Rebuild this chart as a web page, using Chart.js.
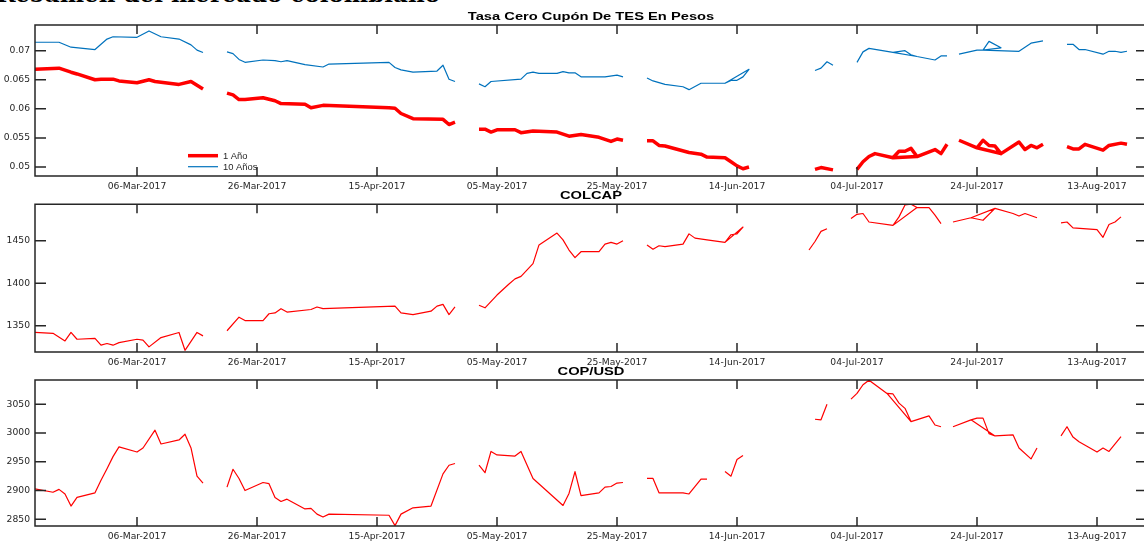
<!DOCTYPE html>
<html>
<head>
<meta charset="utf-8">
<script src="https://cdn.jsdelivr.net/npm/chart.js@4.4.0/dist/chart.umd.min.js"></script>
<style>
  html, body { margin: 0; padding: 0; background: #fff; overflow: hidden; width: 1144px; height: 542px; }
  canvas { position: absolute; left: 0; top: 0; }
  #head { position: absolute; right: 704px; top: -18.5px; font: bold 23px "DejaVu Serif"; line-height: 23px; white-space: nowrap; color: #000; }
</style>
</head>
<body>
<div id="head">Resumen del mercado colombiano</div>
<canvas id="tes" width="1150" height="542"></canvas>
<canvas id="colcap" width="1150" height="542"></canvas>
<canvas id="cop" width="1150" height="542"></canvas>
<script>
// all dates are 2017, written as MM-DD; a null value breaks the line
var xFirst = '02-17';
var xTickDates = ['03-06', '03-26', '04-15', '05-05', '05-25', '06-14', '07-04', '07-24', '08-13'];

var tes1Dates = ['02-17','02-21','02-23','02-24','02-27','02-28','03-02','03-03','03-06','03-08','03-09','03-13','03-15','03-17','03-19',
  '03-21','03-22','03-23','03-24','03-27','03-29','03-30','04-03','04-04','04-06','04-17','04-18','04-19','04-21','04-26','04-27','04-28','04-30',
  '05-02','05-03','05-04','05-05','05-08','05-09','05-11','05-15','05-17','05-19','05-22','05-24','05-25','05-26','05-28',
  '05-30','05-31','06-01','06-02','06-06','06-08','06-09','06-12','06-13','06-14','06-15','06-16','06-20',
  '06-27','06-28','06-30','07-02',
  '07-04','07-05','07-06','07-07','07-10','07-14','07-10','07-11','07-12','07-13','07-14','07-17','07-18','07-19','07-20',
  '07-21','07-24','07-28','07-24','07-25','07-26','07-27','07-28','07-31','08-01','08-02','08-03','08-04','08-06',
  '08-08','08-09','08-10','08-11','08-14','08-15','08-17','08-18'];
var tes1Year = [0.0668,0.0670,0.0663,0.0660,0.0650,0.0651,0.0651,0.0648,0.0645,0.0650,0.0647,0.0642,0.0647,0.0634,null,
  0.0627,0.0624,0.0616,0.0616,0.0619,0.0614,0.0609,0.0608,0.0602,0.0606,0.0602,0.0601,0.0592,0.0583,0.0582,0.0573,0.0577,null,
  0.0565,0.0565,0.0560,0.0564,0.0564,0.0559,0.0562,0.0560,0.0553,0.0556,0.0551,0.0544,0.0548,0.0546,null,
  0.0545,0.0545,0.0537,0.0536,0.0525,0.0522,0.0517,0.0516,0.0509,0.0502,0.0497,0.0500,null,
  0.0496,0.0499,0.0495,null,
  0.0496,0.0509,0.0518,0.0523,0.0516,0.0518,0.0516,0.0527,0.0527,0.0532,0.0518,0.0530,0.0523,0.0539,null,
  0.0546,0.0533,0.0523,0.0533,0.0546,0.0537,0.0536,0.0523,0.0543,0.0530,0.0537,0.0533,0.0539,null,
  0.0535,0.0531,0.0531,0.0539,0.0529,0.0537,0.0541,0.0539];

var tes10Dates = ['02-17','02-21','02-23','02-27','03-01','03-02','03-06','03-08','03-10','03-13','03-15','03-16','03-17','03-19',
  '03-21','03-22','03-23','03-24','03-27','03-29','03-30','03-31','04-03','04-06','04-07','04-17','04-18','04-19','04-21','04-25','04-26','04-27','04-28','04-30',
  '05-02','05-03','05-04','05-09','05-10','05-11','05-12','05-15','05-16','05-17','05-18','05-19','05-23','05-25','05-26','05-28',
  '05-30','05-31','06-02','06-05','06-06','06-08','06-12','06-16','06-12','06-13','06-14','06-15','06-16','06-20',
  '06-27','06-28','06-29','06-30','07-02',
  '07-04','07-05','07-06','07-10','07-14','07-10','07-12','07-13','07-14','07-17','07-18','07-19','07-20',
  '07-21','07-24','07-25','07-26','07-28','07-25','07-31','08-02','08-04','08-06',
  '08-08','08-09','08-10','08-11','08-14','08-15','08-16','08-17','08-18'];
var tes10Year = [0.07145,0.07145,0.0706,0.0702,0.0720,0.0724,0.0723,0.0734,0.0724,0.0720,0.0710,0.0701,0.0697,null,
  0.0698,0.0695,0.0685,0.0680,0.0684,0.0683,0.0681,0.0683,0.0676,0.0672,0.0677,0.0680,0.0671,0.0667,0.0663,0.0665,0.0675,0.0651,0.0647,null,
  0.0643,0.0638,0.0647,0.0651,0.0661,0.0663,0.0661,0.0661,0.0664,0.0662,0.0662,0.0655,0.0655,0.0658,0.0655,null,
  0.0653,0.0648,0.0642,0.0638,0.0633,0.0644,0.0644,0.0668,0.0644,0.0649,0.0649,0.0655,0.0668,null,
  0.0666,0.0670,0.0681,0.0675,null,
  0.0680,0.0698,0.0704,0.0697,0.0690,0.0697,0.0700,0.0693,0.0690,0.0684,0.0691,0.0691,null,
  0.0694,0.0701,0.0701,0.0716,0.0705,0.0701,0.0699,0.0713,0.0717,null,
  0.0711,0.0711,0.0702,0.0702,0.0694,0.0699,0.0699,0.0697,0.0699];

var colcapDates = ['02-17','02-20','02-22','02-23','02-24','02-27','02-28','03-01','03-02','03-03','03-06','03-07','03-08','03-10','03-13','03-14','03-16','03-17','03-19',
  '03-21','03-23','03-24','03-27','03-28','03-29','03-30','03-31','04-04','04-05','04-06','04-18','04-19','04-21','04-24','04-25','04-26','04-27','04-28','04-30',
  '05-02','05-03','05-05','05-07','05-08','05-09','05-11','05-12','05-15','05-16','05-17','05-18','05-19','05-22','05-23','05-24','05-25','05-26','05-28',
  '05-30','05-31','06-01','06-02','06-05','06-06','06-07','06-09','06-12','06-15','06-12','06-13','06-14','06-15','06-20',
  '06-26','06-27','06-28','06-29','07-01',
  '07-03','07-04','07-05','07-06','07-10','07-14','07-10','07-11','07-12','07-13','07-14','07-16','07-17','07-18','07-19',
  '07-20','07-23','07-27','07-23','07-25','07-27','07-30','07-31','08-01','08-03','08-05',
  '08-07','08-08','08-09','08-13','08-14','08-15','08-16','08-17'];
var colcap = [1342,1341,1332,1342,1334,1335,1327,1329,1327,1330,1334,1333,1325,1336,1342,1321,1342,1338,null,
  1344,1360,1356,1356,1364,1365,1370,1366,1369,1372,1370,1373,1365,1363,1367,1373,1375,1363,1372,null,
  1374,1371,1386,1399,1405,1408,1423,1445,1459,1451,1439,1430,1437,1437,1446,1448,1446,1450,null,
  1445,1440,1444,1443,1446,1458,1453,1451,1448,1466,1448,1457,1458,1466,null,
  1439,1449,1461,1464,null,
  1476,1481,1482,1472,1468,1489,1468,1478,1492,1493,1489,1489,1480,1470,null,
  1472,1477,1488,1477,1474,1488,1482,1479,1482,1477,null,
  1471,1472,1465,1463,1454,1469,1472,1478];

var copDates = ['02-17','02-20','02-21','02-22','02-23','02-24','02-27','02-28','03-01','03-02','03-03','03-06','03-07','03-09','03-10','03-13','03-14','03-15','03-16','03-17','03-19',
  '03-21','03-22','03-23','03-24','03-27','03-28','03-29','03-30','03-31','04-03','04-04','04-05','04-06','04-07','04-17','04-18','04-19','04-21','04-24','04-26','04-27','04-28','04-30',
  '05-02','05-03','05-04','05-05','05-08','05-09','05-11','05-16','05-17','05-18','05-19','05-22','05-23','05-24','05-25','05-26','05-28',
  '05-30','05-31','06-01','06-05','06-06','06-08','06-09','06-10',
  '06-12','06-13','06-14','06-15','06-20',
  '06-27','06-28','06-29','07-01',
  '07-03','07-04','07-05','07-06','07-09','07-13','07-09','07-10','07-11','07-12','07-13','07-16','07-17','07-18','07-19',
  '07-20','07-23','07-27','07-23','07-24','07-25','07-26','07-27','07-30','07-31','08-02','08-03','08-05',
  '08-07','08-08','08-09','08-10','08-13','08-14','08-15','08-17'];
var copUsd = [2903,2897,2902,2894,2873,2888,2896,2918,2938,2959,2976,2967,2974,3005,2981,2988,2998,2974,2925,2913,null,
  2906,2937,2921,2900,2914,2912,2888,2881,2885,2868,2869,2859,2854,2859,2857,2839,2859,2870,2873,2929,2944,2947,null,
  2944,2931,2968,2962,2960,2968,2921,2874,2895,2933,2891,2896,2906,2907,2913,2914,null,
  2921,2921,2896,2896,2894,2920,2920,null,
  2933,2925,2954,2961,null,
  3024,3023,3050,null,
  3059,3069,3084,3092,3069,3020,3069,3068,3052,3043,3020,3030,3014,3011,null,
  3011,3023,2995,3023,3026,3026,2999,2995,2997,2974,2955,2974,null,
  2995,3011,2993,2985,2967,2974,2968,2994];

var tesTicks = [0.05, 0.055, 0.06, 0.065, 0.07];
var colcapTicks = [1350, 1400, 1450];
var copTicks = [2850, 2900, 2950, 3000, 3050];

var MONTHS = ['Jan','Feb','Mar','Apr','May','Jun','Jul','Aug','Sep','Oct','Nov','Dec'];
function day(s) { return Date.UTC(2017, +s.slice(0, 2) - 1, +s.slice(3)) / 864e5; }
function fmtDay(v) {
  var d = new Date(v * 864e5);
  return String(d.getUTCDate()).padStart(2, '0') + '-' + MONTHS[d.getUTCMonth()] + '-' + d.getUTCFullYear();
}
function points(dates, vals) {
  return dates.map(function (s, i) { return { x: day(s), y: vals[i] }; });
}

var xMin = day(xFirst);
var xMax = xMin + 185;
var INK = '#262626';
var tickFont = { family: 'DejaVu Sans', size: 9.2 };

// box, inward ticks, stretched title and the in-plot legend
var framePlugin = {
  id: 'frame',
  afterDraw: function (chart, args, opts) {
    var ctx = chart.ctx, a = chart.chartArea, x = chart.scales.x, y = chart.scales.y;
    ctx.save();
    ctx.strokeStyle = INK;
    ctx.lineWidth = 1.5;
    ctx.beginPath();
    ctx.rect(a.left, a.top, a.right - a.left, a.bottom - a.top);
    x.ticks.forEach(function (t) {
      var px = x.getPixelForValue(t.value);
      ctx.moveTo(px, a.bottom); ctx.lineTo(px, a.bottom - 9);
      ctx.moveTo(px, a.top); ctx.lineTo(px, a.top + 9);
    });
    y.ticks.forEach(function (t) {
      var py = y.getPixelForValue(t.value);
      ctx.moveTo(a.left, py); ctx.lineTo(a.left + 11, py);
      ctx.moveTo(a.right, py); ctx.lineTo(a.right - 9, py);
    });
    ctx.stroke();

    ctx.save();
    ctx.fillStyle = '#000';
    ctx.font = 'bold 10.5px "Liberation Sans"';
    ctx.textAlign = 'center';
    ctx.textBaseline = 'alphabetic';
    ctx.translate((a.left + a.right) / 2 + 1, a.top - 5.5);
    ctx.scale(1.4, 1);
    ctx.fillText(opts.title, 0, 0);
    ctx.restore();

    if (opts.legend) {
      var lg = opts.legend;
      ctx.font = '9.4px "Liberation Sans"';
      ctx.textAlign = 'left';
      ctx.textBaseline = 'middle';
      ctx.fillStyle = INK;
      chart.data.datasets.forEach(function (ds, i) {
        var ly = lg.y + i * lg.gap;
        ctx.strokeStyle = ds.borderColor;
        ctx.lineWidth = ds.borderWidth;
        ctx.beginPath();
        ctx.moveTo(lg.x, ly); ctx.lineTo(lg.x + 30, ly);
        ctx.stroke();
        ctx.fillText(ds.label, lg.x + 35, ly + 0.5);
      });
    }
    ctx.restore();
  }
};

function makeChart(id, datasets, yMin, yMax, yTicks, yFmt, top, bottom, frame) {
  return new Chart(document.getElementById(id), {
    type: 'line',
    data: { datasets: datasets },
    options: {
      responsive: false,
      animation: false,
      events: [],
      layout: { padding: { left: 0, right: 5, top: top, bottom: 542 - bottom - 20 } },
      elements: { point: { radius: 0 }, line: { tension: 0, borderJoinStyle: 'round' } },
      scales: {
        x: {
          type: 'linear', min: xMin, max: xMax,
          grid: { display: false, drawTicks: false }, border: { display: false },
          afterBuildTicks: function (s) { s.ticks = xTickDates.map(function (d) { return { value: day(d) }; }); },
          afterFit: function (s) { s.height = 20; },
          ticks: { callback: fmtDay, autoSkip: false, maxRotation: 0, padding: 5, color: INK, font: tickFont }
        },
        y: {
          type: 'linear', min: yMin, max: yMax,
          grid: { display: false, drawTicks: false }, border: { display: false },
          afterBuildTicks: function (s) { s.ticks = yTicks.map(function (v) { return { value: v }; }); },
          afterFit: function (s) { s.width = 35; },
          ticks: { callback: yFmt, padding: 5, color: INK, font: tickFont }
        }
      },
      plugins: { legend: { display: false }, tooltip: { enabled: false }, frame: frame }
    },
    plugins: [framePlugin]
  });
}

function plain(v) { return String(v); }

makeChart('tes', [
  { label: '1 Año', data: points(tes1Dates, tes1Year), borderColor: '#ff0000', borderWidth: 3.5, spanGaps: false },
  { label: '10 Años', data: points(tes10Dates, tes10Year), borderColor: '#0072bd', borderWidth: 1.2, spanGaps: false }
], 0.04845, 0.07442, tesTicks, function (v) { return String(+v.toFixed(3)); }, 25, 176,
  { title: 'Tasa Cero Cupón De TES En Pesos', legend: { x: 188, y: 155.7, gap: 11 } });

makeChart('colcap', [
  { label: 'COLCAP', data: points(colcapDates, colcap), borderColor: '#ff0000', borderWidth: 1.2, spanGaps: false }
], 1319, 1492.8, colcapTicks, plain, 204.3, 352, { title: 'COLCAP' });

makeChart('cop', [
  { label: 'COP/USD', data: points(copDates, copUsd), borderColor: '#ff0000', borderWidth: 1.2, spanGaps: false }
], 2838.3, 3092.3, copTicks, plain, 380, 526, { title: 'COP/USD' });
</script>
</body>
</html>
